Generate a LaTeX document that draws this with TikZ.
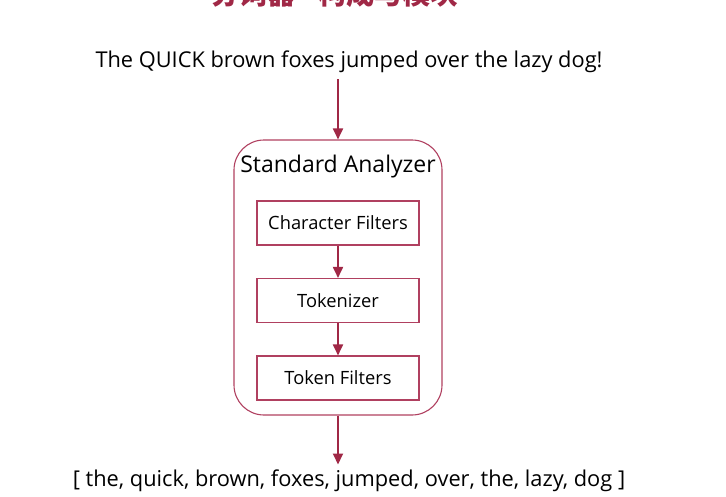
\documentclass[tikz,border=0pt]{standalone}
\usepackage{fontspec}
\setmainfont{Open Sans}
\newfontfamily\cjk{Noto Sans CJK SC}
\usetikzlibrary{arrows.meta,positioning}
\definecolor{flowred}{RGB}{160,40,70}
\definecolor{boxred}{RGB}{176,64,96}

\begin{document}
\begin{tikzpicture}[x=1pt,y=-1pt,>={Triangle[width=10pt,length=11pt]},
    flow/.style={draw=flowred,line width=1.8pt},
    stage/.style={draw=boxred,line width=1.1pt,minimum width=162pt,minimum height=44pt,font=\fontsize{18.3}{20}\selectfont},
    text line/.style={font=\fontsize{21.8}{24}\selectfont}]
  \useasboundingbox (0,0) rectangle (726,496);

  \node[anchor=base,text=flowred,font=\cjk\bfseries\fontsize{28}{30}\selectfont] (title) at (335,4) {分词器 - 构成与模块};
  \node[text line] (sentence) at (349,62) {The QUICK brown foxes jumped over the lazy dog!};

  \node[draw=boxred,line width=1.1pt,rounded corners=30pt,minimum width=208pt,minimum height=275pt] (analyzer) at (338,277.5) {};
  \node[font=\fontsize{23}{26}\selectfont] (name) at (338,167) {Standard Analyzer};

  \node[stage] (charfilter) at (338,223) {Character Filters};
  \node[stage] (tokenizer) at (338,300.5) {Tokenizer};
  \node[stage] (tokenfilter) at (338,378) {Token Filters};

  \node[text line] (result) at (349,481) {[ the, quick, brown, foxes, jumped, over, the, lazy, dog ]};

  \draw[->,flow,shorten <=3pt] (analyzer.north |- sentence.south) -- (analyzer.north);
  \draw[->,flow] (charfilter) -- (tokenizer);
  \draw[->,flow] (tokenizer) -- (tokenfilter);
  \draw[->,flow,shorten >=2pt] (analyzer.south) -- (analyzer.south |- result.north);
\end{tikzpicture}
\end{document}
